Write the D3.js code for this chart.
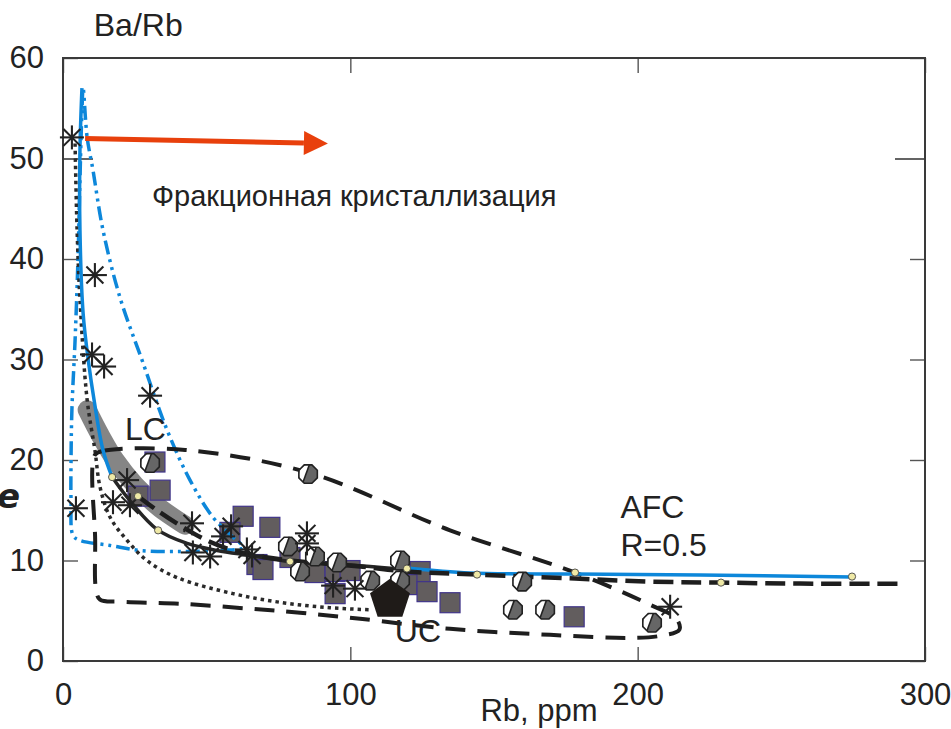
<!DOCTYPE html>
<html><head><meta charset="utf-8">
<script src="https://cdn.jsdelivr.net/npm/d3@7"></script>
<style>
html,body{margin:0;padding:0;background:#fff;}
text{font-family:"Liberation Sans",Arial,sans-serif;fill:#222;}
</style></head>
<body><svg id="c" width="951" height="729"></svg>
<script>
// ---------- data ----------
const xTicks = [0, 100, 200, 300];
const yTicks = [0, 10, 20, 30, 40, 50, 60];

const blueSolidUpper = [[6.6,57.0],[5.9,50.8],[5.9,42.9],[7.0,34.6],[9.0,29.5],[10.8,26.0],[13.9,21.0],[17.1,18.3]];
const blueSolidRight = [[119.7,9.25],[141.7,8.75],[178.2,8.65],[221.7,8.55],[274.6,8.36]];
const blackSolid = [[17.1,18.3],[22.3,16.3],[32.7,13.1],[43.2,11.7],[53.6,11.0],[65.1,10.5],[79.0,9.9],[92.9,9.7],[119.7,9.1]];
const afcDashed = [[26.1,16.4],[32.7,15.0],[40.7,13.5],[50.1,12.0],[59.2,11.0],[68.6,10.4],[82.5,9.9],[103.4,9.4],[119.7,8.9],[144.1,8.6],[178.2,8.2],[204.3,7.9],[229,7.8],[256.5,7.7],[292,7.7]];
const envelope = [[11.1,20.5],[13.9,20.9],[42.5,21.0],[86,18.7],[134.7,13.0],[178.2,8.8],[204.3,5.6],[213.5,4.2],[214.5,3.1],[207.8,2.5],[197.4,2.3],[169.5,2.6],[134.7,3.2],[103.4,4.2],[82.5,4.8],[65.1,5.2],[40.7,5.7],[19.8,5.9],[12.9,6.1],[11.5,7.1],[11.2,12.0]];
const dotted = [[4.2,51.5],[4.9,42.9],[5.9,36.0],[8.4,26.0],[11.1,21.0],[12.9,17.3],[16.4,14.3],[22.3,12.0],[29.2,10.0],[39.7,8.3],[59.2,6.7],[76.5,5.8],[92.9,5.3],[106.9,5.1]];
const blueDashDot = [[7.0,57.0],[8.4,52.1],[10.4,48.9],[13.9,42.9],[19.8,36.2],[27.8,29.7],[36.2,23.0],[44.2,18.0],[52.2,14.3],[59.2,12.3],[62.7,11.3],[54.6,11.0],[41.8,10.9],[26.8,11.0],[16.4,11.5],[5.9,12.0],[3.5,12.5],[2.8,16.0],[2.8,20.0],[3.1,25.0],[4.2,31.9],[5.2,39.9],[5.9,47.9],[6.6,54.8]];
const grayBand = [[8.4,25.0],[12.9,22.5],[18.1,20.0],[25.1,17.5],[33.8,15.2],[42.5,13.5]];
const arrow = [[7.7,52.0],[92.2,51.5]];

const stars = [[3.1,52.1],[11.1,38.4],[10.1,30.5],[14.3,29.3],[30.3,26.4],[4.5,15.2],[17.4,15.8],[22.3,18.0],[23.3,15.5],[44.9,13.7],[45.2,10.8],[51.2,10.4],[55.7,12.4],[58.5,13.4],[64.0,11.1],[65.8,10.5],[84.9,12.7],[84.9,11.7],[94.0,7.5],[101.6,7.2],[211.3,5.4]];
const squares = [[32.0,19.8],[33.8,17.0],[26.1,16.4],[62.7,14.4],[72.0,13.3],[58.1,12.8],[67.5,9.6],[69.6,9.1],[79.0,10.3],[87.7,8.8],[94.7,8.9],[99.9,9.0],[94.7,6.7],[120.8,8.9],[124.3,8.9],[119.7,7.6],[126.7,6.9],[134.7,5.8],[177.9,4.4]];
const splitCircles = [[30.3,19.7],[85.3,18.6],[78.3,11.4],[82.5,8.9],[87.7,10.4],[95.4,9.8],[106.9,8.0],[117.3,8.0],[117.3,10.0],[159.8,7.9],[156.6,5.1],[167.8,5.1],[205.0,3.8]];
const pentagon = [[113.8,6.1]];
const yellowDots = [[17.1,18.3],[26.1,16.4],[33.1,13.0],[79.0,9.9],[119.7,9.2],[144.1,8.6],[178.2,8.8],[229,7.8],[274.6,8.4]];

const labels = [
  {t:"Ba/Rb", v:[10.7,62.2], size:32},
  {t:"Фракционная кристаллизация", v:[31,45.3], size:29},
  {t:"LC", v:[21.6,22.0], size:32},
  {t:"UC", v:[115.5,1.9], size:32},
  {t:"AFC", v:[194,14.2], size:32},
  {t:"R=0.5", v:[194,10.4], size:32}
];

// ---------- chart ----------
const svg = d3.select("#c");
const x = d3.scaleLinear().domain([0,300]).range([63,925]);
const y = d3.scaleLinear().domain([0,60]).range([661,58]);
const BLUE = "#0d87da";

const line = d3.line().x(d=>x(d[0])).y(d=>y(d[1])).curve(d3.curveCatmullRom.alpha(0.5));
const closed = d3.line().x(d=>x(d[0])).y(d=>y(d[1])).curve(d3.curveCatmullRomClosed.alpha(0.5));

// axes
function styleAxis(g){
  g.select(".domain").remove();
  g.selectAll(".tick line").attr("stroke","#555").attr("stroke-width",1.4);
  g.selectAll(".tick text").style("font-size","31px").attr("fill","#222");
}
svg.append("g").attr("transform","translate(0,661)")
  .call(d3.axisBottom(x).tickValues(xTicks).tickSize(-14).tickPadding(22)).call(styleAxis);
svg.append("g").attr("transform","translate(0,58)")
  .call(d3.axisTop(x).tickValues(xTicks).tickSize(-15).tickFormat("")).call(styleAxis);
const ly = svg.append("g").attr("transform","translate(63,0)")
  .call(d3.axisLeft(y).tickValues(yTicks).tickSize(-15).tickPadding(19)).call(styleAxis);
const ry = svg.append("g").attr("transform","translate(925,0)")
  .call(d3.axisRight(y).tickValues(yTicks).tickSize(-15).tickFormat("")).call(styleAxis);
ly.selectAll(".tick").filter(d=>d===50).select("line").attr("x2",30).attr("stroke","#222");
ry.selectAll(".tick").filter(d=>d===50).select("line").attr("x2",-30).attr("stroke","#222");

svg.append("rect").attr("x",x(0)).attr("y",y(60)).attr("width",x(300)-x(0)).attr("height",y(0)-y(60))
  .attr("fill","none").attr("stroke","#3a3a3a").attr("stroke-width",2);

const plot = svg.append("g");

// gray band
plot.append("path").attr("d",line(grayBand)).attr("fill","none").attr("stroke","#858585")
  .attr("stroke-width",19).attr("stroke-linecap","round");

// squares
plot.selectAll("rect.sq").data(squares).join("rect").attr("class","sq")
  .attr("x",d=>x(d[0])-10).attr("y",d=>y(d[1])-10).attr("width",20).attr("height",20)
  .attr("fill","#625d5e").attr("stroke","#41358a").attr("stroke-width",1.2);

// blue dash-dot-dot
plot.append("path").attr("d",closed(blueDashDot)).attr("fill","none").attr("stroke",BLUE)
  .attr("stroke-width",3.5).attr("stroke-dasharray","14 5 3 5 3 5");
// dotted
plot.append("path").attr("d",line(dotted)).attr("fill","none").attr("stroke","#2a2a2a")
  .attr("stroke-width",3.5).attr("stroke-dasharray","3.5 4");
// envelope
plot.append("path").attr("d",closed(envelope)).attr("fill","none").attr("stroke","#1e1e1e")
  .attr("stroke-width",4).attr("stroke-dasharray","20 12");
// blue solid
[blueSolidUpper, blueSolidRight].forEach(s=>{
  plot.append("path").attr("d",line(s)).attr("fill","none").attr("stroke",BLUE).attr("stroke-width",3.5);
});
// black solid
plot.append("path").attr("d",line(blackSolid)).attr("fill","none").attr("stroke","#262626").attr("stroke-width",3.5);
// AFC dashed
plot.append("path").attr("d",line(afcDashed)).attr("fill","none").attr("stroke","#1e1e1e")
  .attr("stroke-width",4.5).attr("stroke-dasharray","20 8");

// split circles
const sc = plot.selectAll("g.sc").data(splitCircles).join("g").attr("class","sc")
  .attr("transform",d=>`translate(${x(d[0])},${y(d[1])})`);
const R = 10;
const oct = d3.range(8).map(i=>{const a=Math.PI/8+i*Math.PI/4; return [R*Math.cos(a),R*Math.sin(a)];});
sc.append("path").attr("d","M"+oct.join("L")+"Z").attr("fill","#666");
sc.append("path").attr("d",`M-2,${-R+0.5} A${R},${R} 0 0 0 -2,${R-0.5} Z`).attr("transform","rotate(20)").attr("fill","#fff");
sc.append("line").attr("x1",-2).attr("y1",-R+0.5).attr("x2",-2).attr("y2",R-0.5).attr("transform","rotate(20)")
  .attr("stroke","#222").attr("stroke-width",1.6);
sc.append("path").attr("d","M"+oct.join("L")+"Z").attr("fill","none").attr("stroke","#222").attr("stroke-width",1.6);

// stars
const st = plot.selectAll("g.st").data(stars).join("g").attr("class","st")
  .attr("transform",d=>`translate(${x(d[0])},${y(d[1])})`);
[0,45,90,135].forEach(a=>{
  st.append("line").attr("x1",-12).attr("x2",12).attr("y1",0).attr("y2",0).attr("transform",`rotate(${a})`)
    .attr("stroke","#222").attr("stroke-width",2.1);
});

// pentagon
const pr = 21;
const pent = d3.range(5).map(i=>{const a=-Math.PI/2+i*2*Math.PI/5; return [pr*Math.cos(a),pr*Math.sin(a)];});
plot.selectAll("path.pt").data(pentagon).join("path").attr("class","pt")
  .attr("d","M"+pent.join("L")+"Z").attr("transform",d=>`translate(${x(d[0])},${y(d[1])})`)
  .attr("fill","#1f1b18");

// yellow dots
plot.selectAll("circle.yd").data(yellowDots).join("circle").attr("class","yd")
  .attr("cx",d=>x(d[0])).attr("cy",d=>y(d[1])).attr("r",3.6)
  .attr("fill","#efe9a6").attr("stroke","#444").attr("stroke-width",0.9);

// arrow
const ax0=x(arrow[0][0]), ay0=y(arrow[0][1]), ax1=x(arrow[1][0]), ay1=y(arrow[1][1]);
const ang = Math.atan2(ay1-ay0, ax1-ax0);
const hl = 24, hw = 12;
const bx = ax1-hl*Math.cos(ang), by = ay1-hl*Math.sin(ang);
plot.append("line").attr("x1",ax0).attr("y1",ay0).attr("x2",bx).attr("y2",by)
  .attr("stroke","#e8400c").attr("stroke-width",5);
plot.append("path").attr("d",`M${ax1},${ay1}L${bx-hw*Math.sin(ang)},${by+hw*Math.cos(ang)}L${bx+hw*Math.sin(ang)},${by-hw*Math.cos(ang)}Z`)
  .attr("fill","#e8400c");

// labels
svg.selectAll("text.lb").data(labels).join("text").attr("class","lb")
  .attr("x",d=>x(d.v[0])).attr("y",d=>y(d.v[1])).style("font-size",d=>d.size+"px").text(d=>d.t);

svg.append("text").attr("x",539).attr("y",721).attr("text-anchor","middle")
  .style("font-size","31px").text("Rb, ppm");
svg.append("text").attr("x",-3).attr("y",508).style("font-size","34px").style("font-style","italic")
  .style("font-weight","bold").style("font-family","'DejaVu Sans'").attr("fill","#000").text("e");
</script></body></html>
